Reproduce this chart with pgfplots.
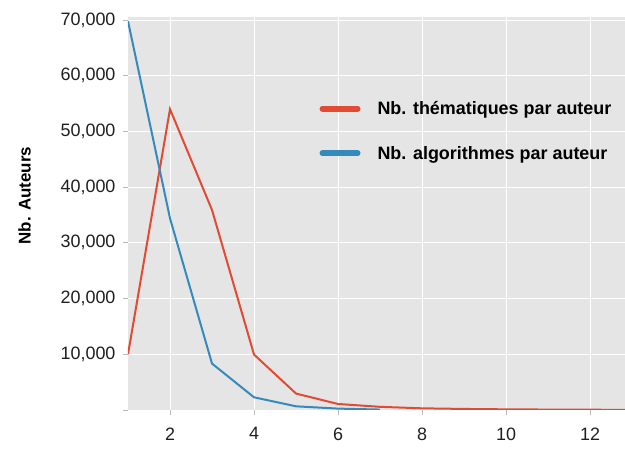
\documentclass[border=0pt]{standalone}
\usepackage{pgfplots}
\pgfplotsset{compat=1.18}
\usepackage{fontspec}
\setmainfont{Liberation Sans}
\definecolor{bgg}{HTML}{E5E5E5}
\definecolor{cred}{HTML}{E24A33}
\definecolor{cblue}{HTML}{348ABD}
\definecolor{tickg}{HTML}{BBBBBB}
\begin{document}
\begin{tikzpicture}[x=1bp,y=1bp]
\begin{axis}[
  scale only axis,
  width=497bp, height=393bp,
  xmin=1, xmax=12.83, ymin=0, ymax=70540,
  scaled y ticks=false,
  axis background/.style={fill=bgg},
  axis line style={draw=none},
  grid=major,
  major grid style={white, line width=1bp},
  xtick={2,4,6,8,10,12},
  xticklabels={2,4,6,8,10,12},
  ytick={0,10000,20000,30000,40000,50000,60000,70000},
  yticklabels={,{10,000},{20,000},{30,000},{40,000},{50,000},{60,000},{70,000}},
  tick align=outside,
  tick pos=left,
  major tick length=5bp,
  tick style={tickg, line width=1bp},
  ticklabel style={font=\fontsize{18}{21}\selectfont, text=black!88},
  xticklabel style={yshift=-9bp},
  yticklabel style={xshift=-4bp},
  ylabel={Nb. Auteurs},
  ylabel style={font=\fontsize{17}{20}\selectfont\bfseries, yshift=23bp, xshift=18bp},
  legend style={draw=none, fill=none, at={(rel axis cs:0.385,0.71)}, anchor=west,
    font=\fontsize{18}{21}\selectfont\bfseries, row sep=26bp, inner sep=0pt},
  legend cell align=left,
  legend image code/.code={\draw[#1, line width=6bp, line cap=round] (3bp,0) -- (38bp,0); \path (55bp,0);},
]
\addplot[cred, line width=2bp] coordinates {
(1,10000) (2,54000) (3,35900) (4,9950) (5,2950) (6,1080) (7,570) (8,300) (9,190) (10,120) (11,80) (12,50) (13,30)};
\addlegendentry{Nb. thématiques par auteur}
\addplot[cblue, line width=2bp] coordinates {
(1,69800) (2,34400) (3,8330) (4,2280) (5,660) (6,250) (7,80)};
\addlegendentry{Nb. algorithmes par auteur}
\end{axis}
\pgfresetboundingbox
\path[use as bounding box] (current axis.south west) ++(-128bp,-40bp) rectangle (current axis.north east) ++(0bp,17bp);
\end{tikzpicture}
\end{document}
